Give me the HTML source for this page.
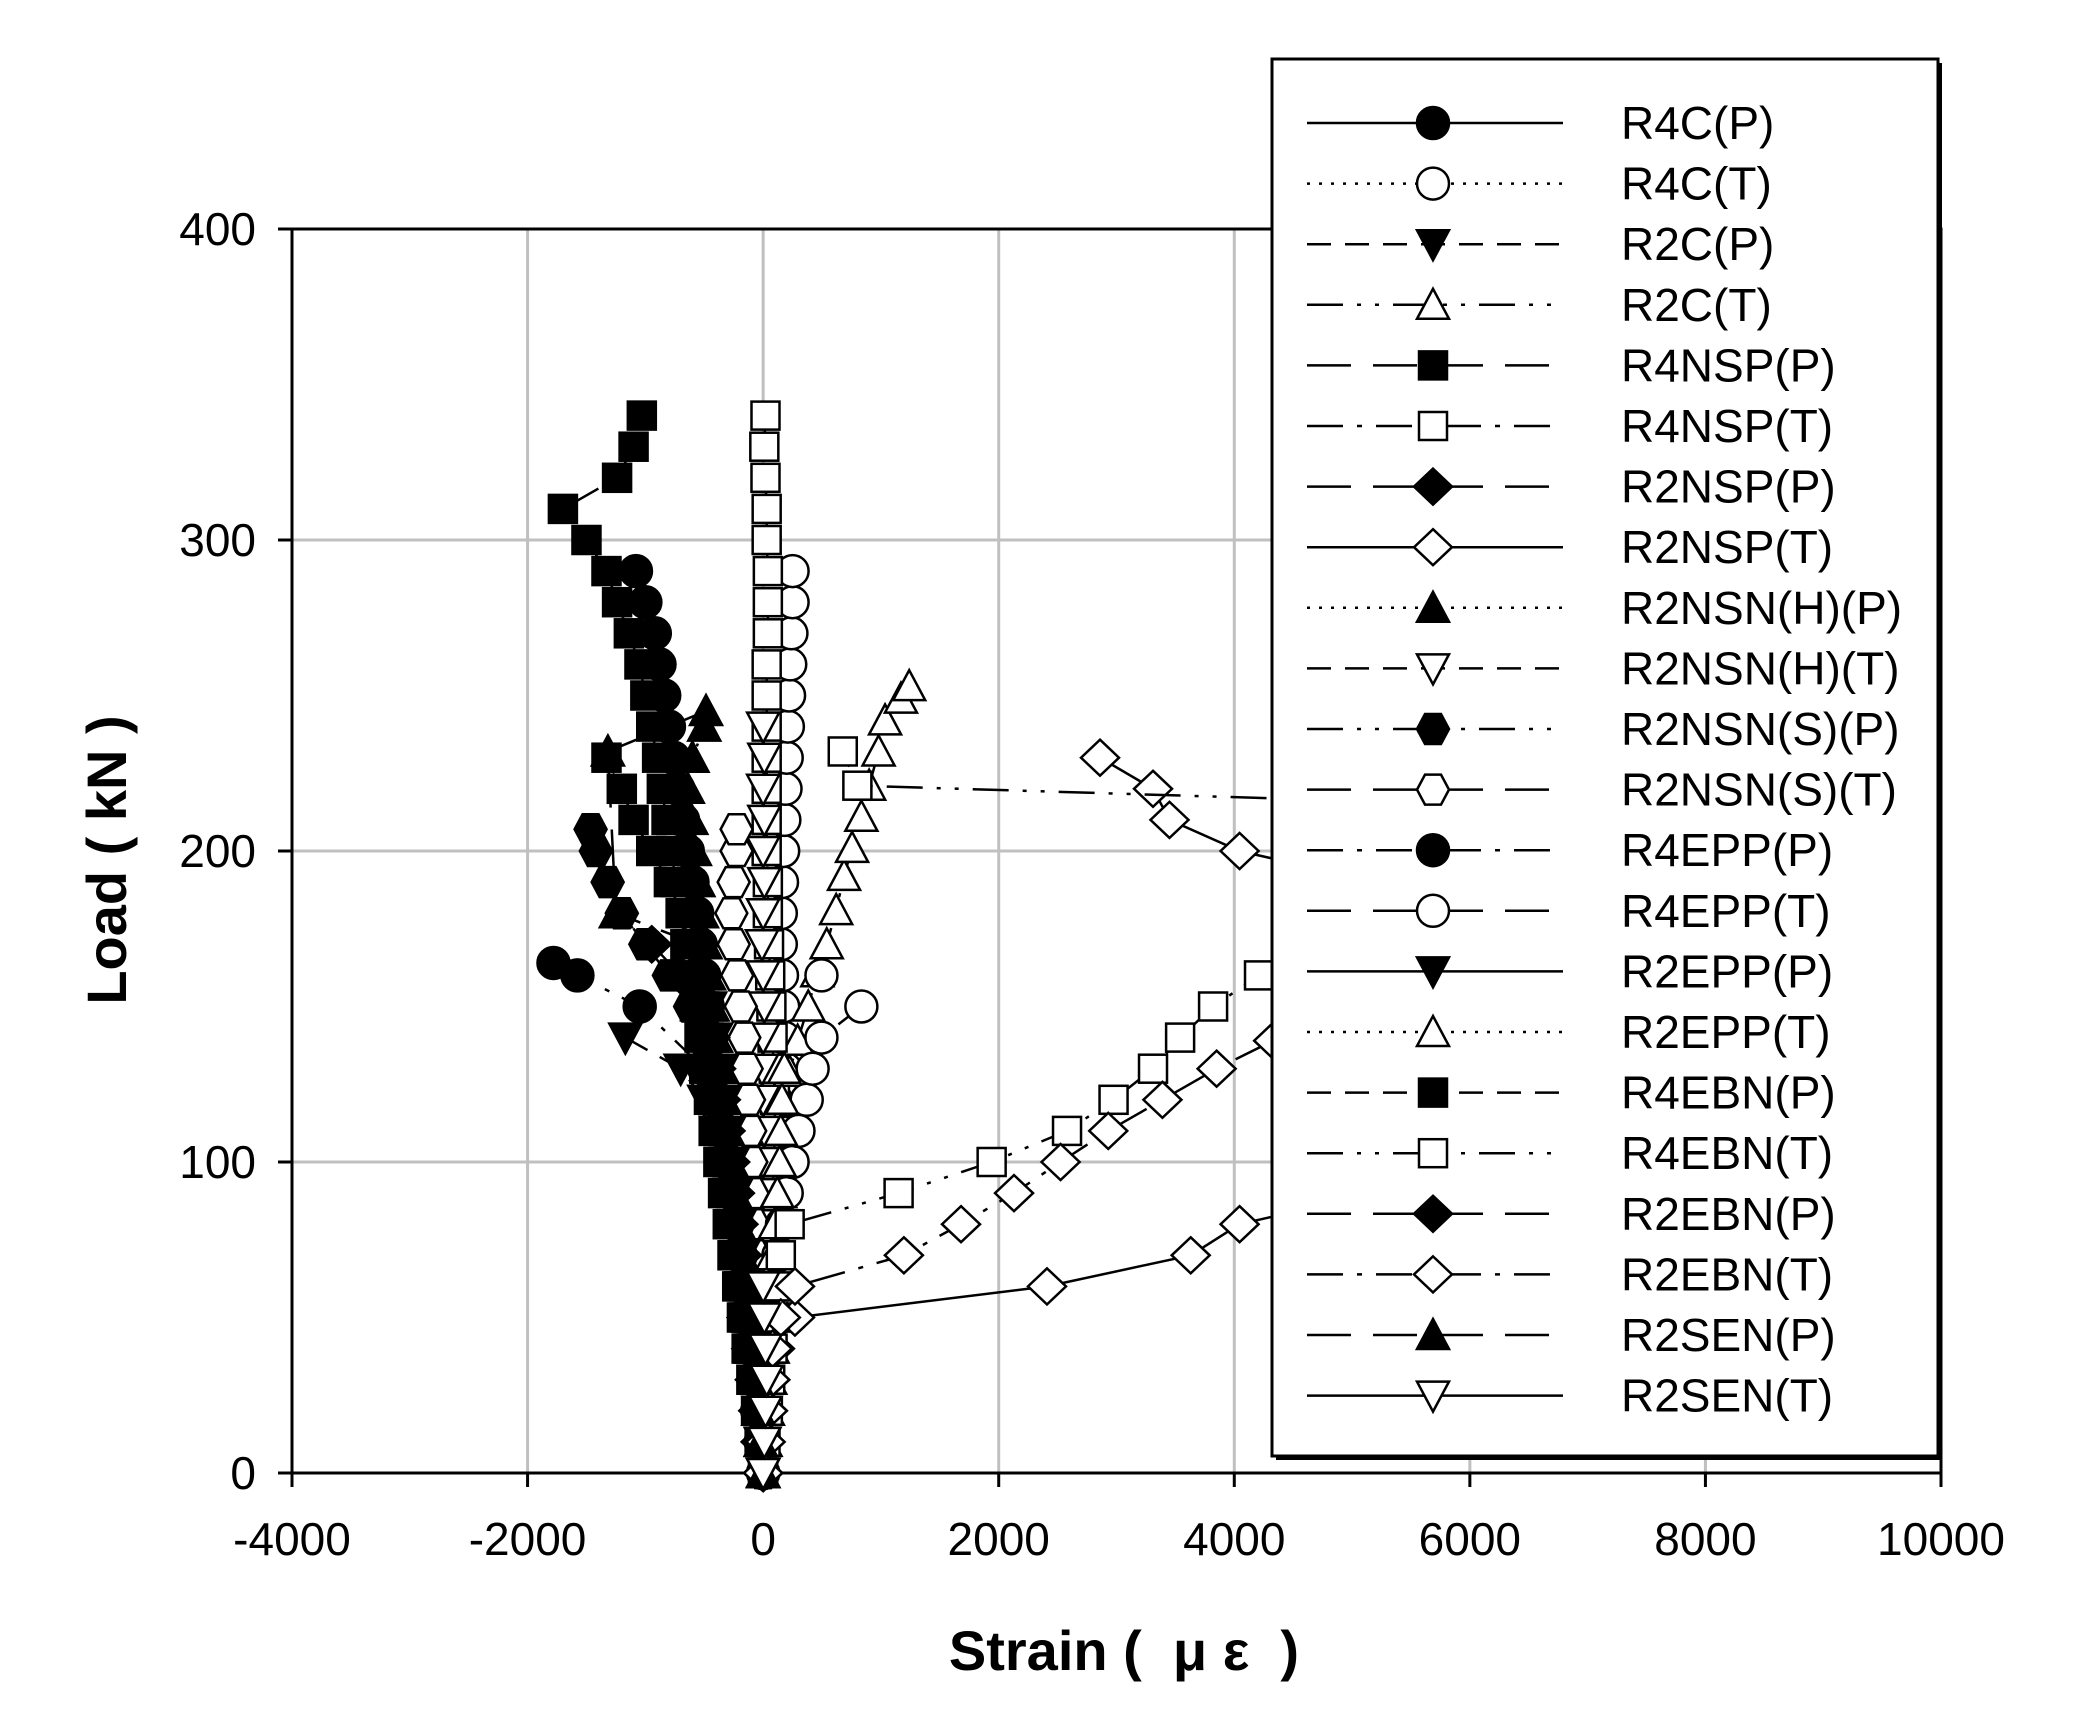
<!DOCTYPE html>
<html><head><meta charset="utf-8"><style>
html,body{margin:0;padding:0;background:#fff}
svg{display:block;font-family:"Liberation Sans",sans-serif}
</style></head><body>
<svg id="chart" width="2073" height="1731" viewBox="0 0 2073 1731" xmlns="http://www.w3.org/2000/svg">
<defs><clipPath id="plotclip"><rect x="250" y="190" width="1720" height="1320"/></clipPath></defs>
<g id="grid"></g>
<g id="axes"></g>
<g id="series" clip-path="url(#plotclip)"></g>
<g id="legend"></g>
<text x="0" y="0" transform="translate(126,860) rotate(-90)" text-anchor="middle" font-size="56" font-weight="bold">Load ( kN )</text>
<text x="1124" y="1670" text-anchor="middle" font-size="56" font-weight="bold" xml:space="preserve">Strain (  μ ε  )</text>
</svg>
<script>
const xTicks = [-4000,-2000,0,2000,4000,6000,8000,10000];
const yTicks = [0,100,200,300,400];
const L10 = [0,10,20,30,40,50,60,70,80,90,100,110,120,130,140,150,160,170,180,190,200,210,220,230,240,250,260,270,280,290,300,310,320,330,340];

const r4cP_load = L10.slice(0,30);
const r4cP_strain = [0,-20,-50,-80,-110,-150,-180,-210,-240,-280,-320,-350,-380,-410,-440,-470,-500,-530,-560,-600,-640,-680,-720,-760,-800,-840,-880,-920,-1000,-1080];
const r4cT_load = L10.slice(0,30);
const r4cT_strain = [0,10,20,40,60,80,100,120,150,180,200,210,200,190,180,170,160,150,150,160,170,180,190,200,210,220,230,240,250,250];
const r2cP_load = L10.slice(0,15);
const r2cP_strain = [0,-10,-30,-60,-100,-140,-180,-220,-260,-300,-350,-400,-500,-700,-1170];
const r2cT_load = [0,10,20,30,40,50,60,70,80,90,100,110,120,129,139,150,161,170,181,192,201,211,221,232,242,249,253];
const r2cT_strain = [0,20,40,60,80,100,120,130,140,145,147,158,190,225,293,383,460,540,620,687,755,834,900,980,1035,1170,1240];
const r4nspP_load = L10.slice(0,35);
const r4nspP_strain = [0,-30,-60,-100,-140,-180,-220,-260,-300,-340,-380,-420,-460,-500,-540,-580,-620,-660,-700,-740,-780,-820,-860,-900,-950,-1000,-1050,-1140,-1240,-1330,-1500,-1700,-1240,-1100,-1030];
const r4nspT_load = L10.slice(0,35);
const r4nspT_strain = [0,10,20,30,40,50,60,60,70,80,90,100,100,90,80,70,60,50,40,40,30,30,30,30,30,30,30,40,40,40,30,30,20,10,20];
const r2nspP_load = L10.slice(0,18);
const r2nspP_strain = [0,-20,-40,-70,-100,-140,-170,-200,-230,-270,-300,-340,-380,-420,-480,-560,-700,-946];
const r2nspT_load = [0,10,20,30,40,50,60,70,80,90,120,160,190,200,210,220,230];
const r2nspT_strain = [0,20,40,60,100,270,2410,3630,4045,5200,6000,6000,5200,4045,3450,3310,2860];
const r2nsnhP_load = L10.slice(0,25);
const r2nsnhP_strain = [0,-20,-40,-70,-100,-130,-160,-190,-220,-250,-280,-310,-340,-370,-400,-430,-460,-490,-520,-550,-580,-610,-640,-600,-500];
const r2nsnhT_load = L10.slice(0,25);
const r2nsnhT_strain = [0,10,20,10,0,-10,-20,-20,-10,0,0,10,0,-10,0,10,0,-10,0,10,0,10,0,10,0];
const r2nsnsP_load = [0,10,20,30,40,50,60,70,80,90,100,110,120,130,140,150,160,170,180,190,200,207];
const r2nsnsP_strain = [0,-20,-40,-60,-90,-120,-150,-180,-210,-250,-290,-330,-380,-440,-520,-620,-800,-1000,-1200,-1320,-1420,-1465];
const r2nsnsT_load = [0,10,20,30,40,50,60,70,80,90,100,110,120,130,140,150,160,170,180,190,200,207];
const r2nsnsT_strain = [0,-10,-20,-30,-40,-50,-60,-70,-80,-90,-100,-110,-120,-140,-160,-190,-220,-250,-270,-250,-225,-225];
const r4eppP_load = [0,10,20,30,40,50,60,70,80,90,100,110,120,130,150,160,164];
const r4eppP_strain = [0,-20,-40,-70,-100,-130,-160,-190,-220,-260,-300,-350,-420,-500,-1048,-1577,-1780];
const r4eppT_load = L10.slice(0,17);
const r4eppT_strain = [0,10,20,40,60,80,100,130,160,200,250,300,370,420,495,834,495];
const r2eppP_load = L10.slice(0,16);
const r2eppP_strain = [0,-20,-40,-60,-80,-110,-140,-170,-200,-230,-260,-290,-320,-360,-400,-450];
const r2eppT_load = L10.slice(0,14);
const r2eppT_strain = [0,10,20,30,40,50,60,80,100,120,140,150,160,180];
const r4ebnP_load = L10.slice(0,24);
const r4ebnP_strain = [0,-20,-40,-70,-100,-130,-160,-190,-220,-260,-300,-340,-380,-420,-460,-500,-560,-620,-700,-800,-950,-1100,-1200,-1330];
const r4ebnT_load = [0,10,20,30,40,50,60,70,80,90,100,110,120,130,140,150,160,180,200,215,221,232];
const r4ebnT_strain = [0,20,40,60,80,100,120,150,225,1150,1940,2580,2975,3310,3540,3820,4210,6000,6500,6000,800,676];
const r2ebnP_load = L10.slice(0,17);
const r2ebnP_strain = [0,-20,-40,-60,-90,-120,-150,-180,-210,-240,-280,-320,-360,-400,-450,-520,-600];
const r2ebnT_load = [0,10,20,30,40,50,60,70,80,90,100,110,120,130,139,150,160];
const r2ebnT_strain = [0,20,40,60,80,150,270,1195,1680,2130,2525,2930,3390,3850,4330,5000,5500];
const r2senP_load = [0,10,20,30,40,50,60,70,80,90,100,110,120,130,140,150,160,170,180,232,245];
const r2senP_strain = [0,-20,-40,-60,-90,-120,-150,-180,-210,-240,-270,-300,-330,-370,-410,-450,-500,-560,-1250,-1318,-485];
const r2senT_load = [0,10,20,30,40,50,60];
const r2senT_strain = [0,10,20,30,20,10,0];

const SOLID="", DOT="3,9", DASH="24,14", LDASH="44,22", DDOT="36,14,4,14,4,14", DDASH="36,14,5,14";
const seriesDefs = [
 ["R4C(P)", r4cP_strain, r4cP_load, "circle", true, SOLID],
 ["R4C(T)", r4cT_strain, r4cT_load, "circle", false, DOT],
 ["R2C(P)", r2cP_strain, r2cP_load, "tridown", true, DASH],
 ["R2C(T)", r2cT_strain, r2cT_load, "triup", false, DDOT],
 ["R4NSP(P)", r4nspP_strain, r4nspP_load, "square", true, LDASH],
 ["R4NSP(T)", r4nspT_strain, r4nspT_load, "square", false, DDASH],
 ["R2NSP(P)", r2nspP_strain, r2nspP_load, "diamond", true, LDASH],
 ["R2NSP(T)", r2nspT_strain, r2nspT_load, "diamond", false, SOLID],
 ["R2NSN(H)(P)", r2nsnhP_strain, r2nsnhP_load, "triup", true, DOT],
 ["R2NSN(H)(T)", r2nsnhT_strain, r2nsnhT_load, "tridown", false, DASH],
 ["R2NSN(S)(P)", r2nsnsP_strain, r2nsnsP_load, "hex", true, DDOT],
 ["R2NSN(S)(T)", r2nsnsT_strain, r2nsnsT_load, "hex", false, LDASH],
 ["R4EPP(P)", r4eppP_strain, r4eppP_load, "circle", true, DDASH],
 ["R4EPP(T)", r4eppT_strain, r4eppT_load, "circle", false, LDASH],
 ["R2EPP(P)", r2eppP_strain, r2eppP_load, "tridown", true, SOLID],
 ["R2EPP(T)", r2eppT_strain, r2eppT_load, "triup", false, DOT],
 ["R4EBN(P)", r4ebnP_strain, r4ebnP_load, "square", true, DASH],
 ["R4EBN(T)", r4ebnT_strain, r4ebnT_load, "square", false, DDOT],
 ["R2EBN(P)", r2ebnP_strain, r2ebnP_load, "diamond", true, LDASH],
 ["R2EBN(T)", r2ebnT_strain, r2ebnT_load, "diamond", false, DDASH],
 ["R2SEN(P)", r2senP_strain, r2senP_load, "triup", true, LDASH],
 ["R2SEN(T)", r2senT_strain, r2senT_load, "tridown", false, SOLID]
];

const NS="http://www.w3.org/2000/svg";
const X0=292, X1=1941, Y0=1473, Y1=229;
function xs(v){return X0+(v+4000)/14000*(X1-X0);}
function ys(v){return Y0-(v/400)*(Y0-Y1);}
function mk(tag,attrs,parent){const e=document.createElementNS(NS,tag);for(const k in attrs)e.setAttribute(k,attrs[k]);parent.appendChild(e);return e;}

const grid=document.getElementById('grid'), axes=document.getElementById('axes');
xTicks.forEach(t=>{
  if(t>-4000&&t<10000){const g=mk('line',{x1:xs(t),x2:xs(t),y1:Y1,y2:Y0,stroke:'#c0c0c0','stroke-width':3},grid);
  
  }
  const tk=mk('line',{x1:xs(t),x2:xs(t),y1:Y0,y2:Y0+14,stroke:'#000','stroke-width':3},axes);
  
  
  const tl=mk('text',{x:xs(t),y:Y0+82,'text-anchor':'middle','font-size':46},axes);
  
  
  tl.textContent=t;
});
yTicks.forEach(t=>{
  if(t>0&&t<400){const g=mk('line',{x1:X0,x2:X1,y1:ys(t),y2:ys(t),stroke:'#c0c0c0','stroke-width':3},grid);
  
  }
  const tk=mk('line',{x1:X0-14,x2:X0,y1:ys(t),y2:ys(t),stroke:'#000','stroke-width':3},axes);
  
  
  const tl=mk('text',{x:X0-36,y:ys(t)+16,'text-anchor':'end','font-size':46},axes);
  
  
  tl.textContent=t;
});
const frame=mk('rect',{x:X0,y:Y1,width:X1-X0,height:Y0-Y1,fill:'none',stroke:'#000','stroke-width':3},axes);



function marker(shape,filled,cx,cy,parent){
  const r=16, a={fill:filled?'#000':'#fff',stroke:'#000','stroke-width':2.5};
  let e;
  if(shape==='circle'){a.cx=cx;a.cy=cy;a.r=r;e=mk('circle',a,parent);}
  else if(shape==='square'){a.x=cx-14;a.y=cy-14;a.width=28;a.height=28;e=mk('rect',a,parent);}
  else {
    let p;
    if(shape==='triup')p=[[0,-16],[16,14],[-16,14]];
    else if(shape==='tridown')p=[[0,16],[16,-14],[-16,-14]];
    else if(shape==='diamond')p=[[0,-18],[19,0],[0,18],[-19,0]];
    else p=[[-8,-15],[8,-15],[16,0],[8,15],[-8,15],[-16,0]];
    a.points=p.map(q=>(cx+q[0])+','+(cy+q[1])).join(' ');
    e=mk('polygon',a,parent);
  }
  return e;
}

const sl=document.getElementById('series');
seriesDefs.forEach(s=>{
  const [name,xsA,ysA,shape,filled,dash]=s;
  const g=mk('g',{},sl);
  
  
  const pts=xsA.map((v,i)=>xs(v)+','+ys(ysA[i])).join(' ');
  const line=mk('polyline',{points:pts,fill:'none',stroke:'#000','stroke-width':2.5,'stroke-dasharray':dash||'none'},g);
  
  
  xsA.forEach((v,i)=>{
    const m=marker(shape,filled,xs(v),ys(ysA[i]),g);
    
    
  });
});

const lg=document.getElementById('legend');
const sh=mk('rect',{x:1276,y:63,width:666,height:1397,fill:'#000'},lg);


const box=mk('rect',{x:1272,y:59,width:666,height:1397,fill:'#fff',stroke:'#000','stroke-width':3},lg);


seriesDefs.forEach((s,i)=>{
  const y=123+i*60.6;
  const g=mk('g',{},lg);
  
  
  mk('line',{x1:1307,x2:1563,y1:y,y2:y,stroke:'#000','stroke-width':2.5,'stroke-dasharray':s[5]||'none'},g);
  marker(s[3],s[4],1433,y,g);
  const t=mk('text',{x:1621,y:y+16,'font-size':46},g);
  t.textContent=s[0];
});
</script>
</body></html>
